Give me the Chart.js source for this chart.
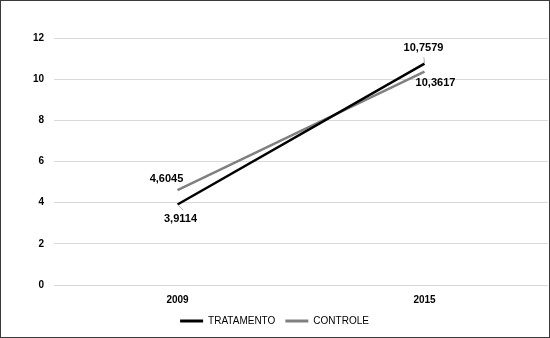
<!DOCTYPE html>
<html>
<head>
<meta charset="utf-8">
<script src="https://cdn.jsdelivr.net/npm/chart.js@4.4.1/dist/chart.umd.min.js"></script>
<style>
  html, body { margin: 0; padding: 0; background: #fff; }
  #wrap {
    width: 550px; height: 338px; box-sizing: border-box;
    border: 1px solid #3a3a3a; background: #fff;
  }
  #chart { display: block; }
</style>
</head>
<body>
<div id="wrap"><canvas id="chart" width="548" height="336"></canvas></div>
<script>
// 数据
const anos = ['2009', '2015'];
const tratamento = [3.9114, 10.7579];
const controle = [4.6045, 10.3617];
const rotulosTratamento = ['3,9114', '10,7579'];
const rotulosControle = ['4,6045', '10,3617'];

// 标签相对数据点的偏移 [dx, dy]
const offsetsTratamento = [[3, 14], [-1, -16]];
const offsetsControle = [[-11, -11], [11, 11]];
// 是否画引导线
const guiasTratamento = [true, true];
const guiasControle = [false, false];

const corTratamento = '#000000';
const corControle = '#808080';

// 数据标签插件
const rotulosPlugin = {
    id: 'rotulos',
    afterDatasetsDraw(chart) {
        const ctx = chart.ctx;
        const conjuntos = [
            { idx: 0, textos: rotulosTratamento, offs: offsetsTratamento, guias: guiasTratamento },
            { idx: 1, textos: rotulosControle, offs: offsetsControle, guias: guiasControle }
        ];
        ctx.save();
        ctx.font = 'bold 11px "Liberation Sans", Arial, sans-serif';
        ctx.fillStyle = '#000';
        ctx.textAlign = 'center';
        ctx.textBaseline = 'middle';
        conjuntos.forEach(c => {
            const meta = chart.getDatasetMeta(c.idx);
            meta.data.forEach((pt, i) => {
                const dx = c.offs[i][0];
                const dy = c.offs[i][1];
                const tx = pt.x + dx;
                const ty = pt.y + dy;
                // linha guia
                if (c.guias[i]) {
                    ctx.strokeStyle = '#b0b0b0';
                    ctx.lineWidth = 1;
                    ctx.beginPath();
                    ctx.moveTo(pt.x, pt.y);
                    ctx.lineTo(pt.x + dx * 0.6 + (dx > 0 ? 4 : 0), pt.y + dy * 0.4);
                    ctx.stroke();
                }
                ctx.fillText(c.textos[i], tx, ty);
            });
        });
        ctx.restore();
    }
};

const grafico = new Chart(document.getElementById('chart'), {
    type: 'line',
    data: {
        labels: anos,
        datasets: [
            {
                label: 'TRATAMENTO',
                data: tratamento,
                borderColor: corTratamento,
                backgroundColor: corTratamento,
                borderWidth: 2.5,
                pointRadius: 0,
                tension: 0
            },
            {
                label: 'CONTROLE',
                data: controle,
                borderColor: corControle,
                backgroundColor: corControle,
                borderWidth: 2.5,
                pointRadius: 0,
                tension: 0
            }
        ]
    },
    options: {
        responsive: false,
        animation: false,
        layout: { padding: { top: 37, right: 1, left: 0, bottom: 1 } },
        scales: {
            x: {
                offset: true,
                grid: { display: false, drawTicks: false },
                border: { display: false },
                ticks: {
                    padding: 9,
                    color: '#000',
                    font: { family: '"Liberation Sans", Arial, sans-serif', size: 10, weight: 'bold' }
                },
                afterFit(scale) { scale.height = 21; }
            },
            y: {
                min: 0,
                max: 12,
                ticks: {
                    stepSize: 2,
                    padding: 10,
                    color: '#000',
                    font: { family: '"Liberation Sans", Arial, sans-serif', size: 10, weight: 'bold' }
                },
                grid: { color: '#d9d9d9', lineWidth: 1, drawTicks: false },
                border: { display: false },
                afterFit(scale) { scale.width = 53; }
            }
        },
        plugins: {
            legend: {
                position: 'bottom',
                labels: {
                    boxWidth: 23,
                    boxHeight: 3,
                    padding: 10,
                    color: '#000',
                    font: { family: '"Liberation Sans", Arial, sans-serif', size: 10 },
                    generateLabels(chart) {
                        return chart.data.datasets.map((ds, i) => ({
                            text: ds.label,
                            fillStyle: ds.borderColor,
                            strokeStyle: ds.borderColor,
                            lineWidth: 0,
                            datasetIndex: i,
                            hidden: false
                        }));
                    }
                }
            },
            tooltip: { enabled: false }
        }
    },
    plugins: [rotulosPlugin]
});
</script>
</body>
</html>
